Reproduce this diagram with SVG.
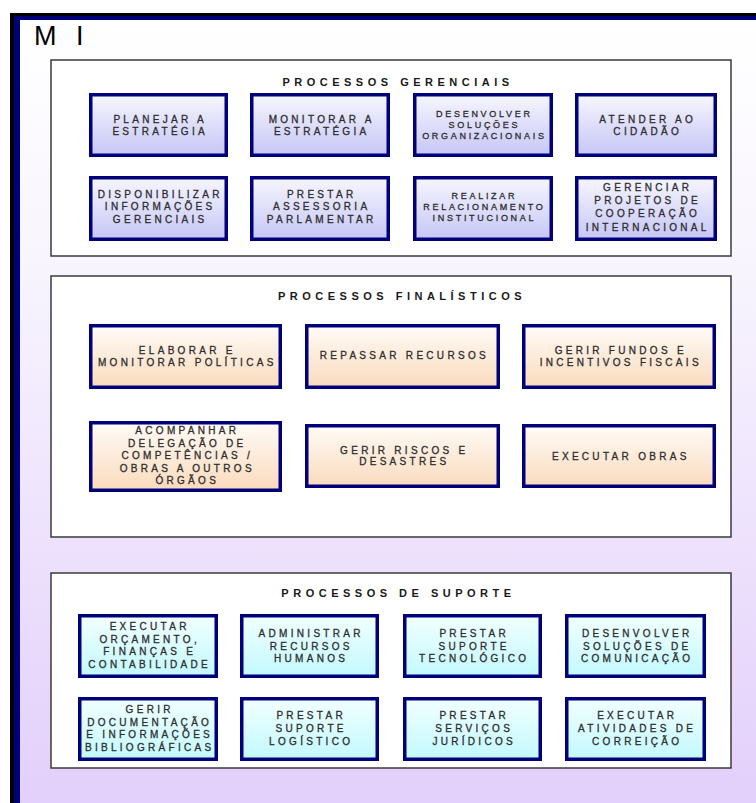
<svg xmlns="http://www.w3.org/2000/svg" width="756" height="803" viewBox="0 0 756 803">
<defs>
<linearGradient id="bg" x1="0" y1="0" x2="0" y2="1"><stop offset="0" stop-color="#ffffff"/><stop offset="0.3" stop-color="#f8f5fe"/><stop offset="1" stop-color="#e3cffb"/></linearGradient>
<linearGradient id="gG" x1="0" y1="0" x2="0" y2="1"><stop offset="0" stop-color="#f6f6ff"/><stop offset="1" stop-color="#c6c6f6"/></linearGradient>
<linearGradient id="gF" x1="0" y1="0" x2="0" y2="1"><stop offset="0" stop-color="#fffbf7"/><stop offset="1" stop-color="#fadbbd"/></linearGradient>
<linearGradient id="gS" x1="0" y1="0" x2="0" y2="1"><stop offset="0" stop-color="#f2ffff"/><stop offset="1" stop-color="#c2f9ff"/></linearGradient>
</defs>
<style>
.sec{fill:#ffffff;stroke:#3a3a3a;stroke-width:1.5}
.box{stroke:#00007a;stroke-width:3.5}
.g{fill:url(#gG)}
.f{fill:url(#gF)}
.s{fill:url(#gS)}
.ttl{font-family:"Liberation Sans",Arial,sans-serif;font-weight:bold;font-size:11px;letter-spacing:4.5px;fill:#1a1a1a;text-anchor:middle}
.t{font-family:"Liberation Sans",Arial,sans-serif;font-size:10px;letter-spacing:3.3px;fill:#2e2e2e;stroke:#2e2e2e;stroke-width:0.3px;text-anchor:middle}
.sm{font-size:9px;letter-spacing:2.7px}
.fi{font-size:10px;letter-spacing:3.3px}
</style>
<rect x="0" y="0" width="756" height="803" fill="#ffffff"/>
<rect x="10" y="13" width="760" height="800" fill="#000000"/>
<rect x="14" y="16" width="756" height="800" fill="#00007a"/>
<rect x="20" y="20" width="750" height="790" fill="url(#bg)"/>
<text x="34" y="45" font-family="'Liberation Sans',Arial,sans-serif" font-size="27" letter-spacing="6" fill="#000000">M I</text>

<g id="sec-gerenciais">
<rect class="sec" x="51" y="60" width="680" height="196"/>
<text class="ttl" x="398" y="85.5">PROCESSOS GERENCIAIS</text>
</g>
<g id="sec-finalisticos">
<rect class="sec" x="51" y="276" width="680" height="261"/>
<text class="ttl" x="402" y="299.5">PROCESSOS FINALÍSTICOS</text>
</g>
<g id="sec-suporte">
<rect class="sec" x="51" y="573" width="680" height="195"/>
<text class="ttl" x="398.5" y="597">PROCESSOS DE SUPORTE</text>
</g>

<g id="g1"><rect class="box g" x="90.75" y="94.75" width="135.5" height="60.5"/>
<text class="t" x="160.2" y="122.5">PLANEJAR A</text><text class="t" x="160.2" y="134.5">ESTRATÉGIA</text></g>
<g id="g2"><rect class="box g" x="251.75" y="94.75" width="136.5" height="60.5"/>
<text class="t" x="321.7" y="122.5">MONITORAR A</text><text class="t" x="321.7" y="134.5">ESTRATÉGIA</text></g>
<g id="g3"><rect class="box g" x="414.75" y="94.75" width="136.5" height="60.5"/>
<text class="t sm" x="484.4" y="116.5">DESENVOLVER</text><text class="t sm" x="484.4" y="127.5">SOLUÇÕES</text><text class="t sm" x="484.4" y="139">ORGANIZACIONAIS</text></g>
<g id="g4"><rect class="box g" x="576.75" y="94.75" width="138.5" height="60.5"/>
<text class="t" x="647.7" y="122.5">ATENDER AO</text><text class="t" x="647.7" y="134.5">CIDADÃO</text></g>

<g id="g5"><rect class="box g" x="90.75" y="177.75" width="135.5" height="61.5"/>
<text class="t" x="160.2" y="197.5">DISPONIBILIZAR</text><text class="t" x="160.2" y="210">INFORMAÇÕES</text><text class="t" x="160.2" y="223">GERENCIAIS</text></g>
<g id="g6"><rect class="box g" x="251.75" y="177.75" width="136.5" height="61.5"/>
<text class="t" x="321.7" y="197.5">PRESTAR</text><text class="t" x="321.7" y="210">ASSESSORIA</text><text class="t" x="321.7" y="223">PARLAMENTAR</text></g>
<g id="g7"><rect class="box g" x="414.75" y="177.75" width="136.5" height="61.5"/>
<text class="t sm" x="484.4" y="198.5">REALIZAR</text><text class="t sm" x="484.4" y="209.5">RELACIONAMENTO</text><text class="t sm" x="484.4" y="220.5">INSTITUCIONAL</text></g>
<g id="g8"><rect class="box g" x="576.75" y="177.75" width="138.5" height="61.5"/>
<text class="t" x="647.7" y="191">GERENCIAR</text><text class="t" x="647.7" y="204">PROJETOS DE</text><text class="t" x="647.7" y="217.3">COOPERAÇÃO</text><text class="t" x="647.7" y="230.5">INTERNACIONAL</text></g>

<g id="f1"><rect class="box f" x="90.75" y="325.75" width="189.5" height="61.5"/>
<text class="t fi" x="187.3" y="353.5">ELABORAR E</text><text class="t fi" x="187.3" y="366">MONITORAR POLÍTICAS</text></g>
<g id="f2"><rect class="box f" x="306.75" y="325.75" width="191.5" height="61.5"/>
<text class="t fi" x="404.3" y="358.5">REPASSAR RECURSOS</text></g>
<g id="f3"><rect class="box f" x="523.75" y="325.75" width="190.5" height="61.5"/>
<text class="t fi" x="620.8" y="353.5">GERIR FUNDOS E</text><text class="t fi" x="620.8" y="366">INCENTIVOS FISCAIS</text></g>

<g id="f4"><rect class="box f" x="90.75" y="422.75" width="189.5" height="67.5"/>
<text class="t fi" x="187.3" y="433.5">ACOMPANHAR</text><text class="t fi" x="187.3" y="446.5">DELEGAÇÃO DE</text><text class="t fi" x="187.3" y="459">COMPETÊNCIAS /</text><text class="t fi" x="187.3" y="471.5">OBRAS A OUTROS</text><text class="t fi" x="187.3" y="484">ÓRGÃOS</text></g>
<g id="f5"><rect class="box f" x="306.75" y="425.75" width="191.5" height="60.5"/>
<text class="t fi" x="404.3" y="453.5">GERIR RISCOS E</text><text class="t fi" x="404.3" y="465">DESASTRES</text></g>
<g id="f6"><rect class="box f" x="523.75" y="425.75" width="190.5" height="60.5"/>
<text class="t fi" x="620.8" y="459.5">EXECUTAR OBRAS</text></g>

<g id="s1"><rect class="box s" x="79.75" y="615.75" width="136.5" height="60.5"/>
<text class="t" x="149.7" y="630">EXECUTAR</text><text class="t" x="149.7" y="642.5">ORÇAMENTO,</text><text class="t" x="149.7" y="655">FINANÇAS E</text><text class="t" x="149.7" y="668">CONTABILIDADE</text></g>
<g id="s2"><rect class="box s" x="241.75" y="615.75" width="135.5" height="60.5"/>
<text class="t" x="311.2" y="637">ADMINISTRAR</text><text class="t" x="311.2" y="649.5">RECURSOS</text><text class="t" x="311.2" y="662">HUMANOS</text></g>
<g id="s3"><rect class="box s" x="404.75" y="615.75" width="135.5" height="60.5"/>
<text class="t" x="474.2" y="637">PRESTAR</text><text class="t" x="474.2" y="649.5">SUPORTE</text><text class="t" x="474.2" y="662">TECNOLÓGICO</text></g>
<g id="s4"><rect class="box s" x="566.75" y="615.75" width="137.5" height="60.5"/>
<text class="t" x="637.2" y="637">DESENVOLVER</text><text class="t" x="637.2" y="649.5">SOLUÇÕES DE</text><text class="t" x="637.2" y="662">COMUNICAÇÃO</text></g>

<g id="s5"><rect class="box s" x="79.75" y="698.75" width="136.5" height="60.5"/>
<text class="t" x="149.7" y="712.5">GERIR</text><text class="t" x="149.7" y="725.5">DOCUMENTAÇÃO</text><text class="t" x="149.7" y="737.5">E INFORMAÇÕES</text><text class="t" x="149.7" y="750.5">BIBLIOGRÁFICAS</text></g>
<g id="s6"><rect class="box s" x="241.75" y="698.75" width="135.5" height="60.5"/>
<text class="t" x="311.2" y="719">PRESTAR</text><text class="t" x="311.2" y="731.5">SUPORTE</text><text class="t" x="311.2" y="744.5">LOGÍSTICO</text></g>
<g id="s7"><rect class="box s" x="404.75" y="698.75" width="135.5" height="60.5"/>
<text class="t" x="474.2" y="719">PRESTAR</text><text class="t" x="474.2" y="731.5">SERVIÇOS</text><text class="t" x="474.2" y="744.5">JURÍDICOS</text></g>
<g id="s8"><rect class="box s" x="566.75" y="698.75" width="137.5" height="60.5"/>
<text class="t" x="637.2" y="719">EXECUTAR</text><text class="t" x="637.2" y="731.5">ATIVIDADES DE</text><text class="t" x="637.2" y="744.5">CORREIÇÃO</text></g>

<g id="connectors"></g>
</svg>
